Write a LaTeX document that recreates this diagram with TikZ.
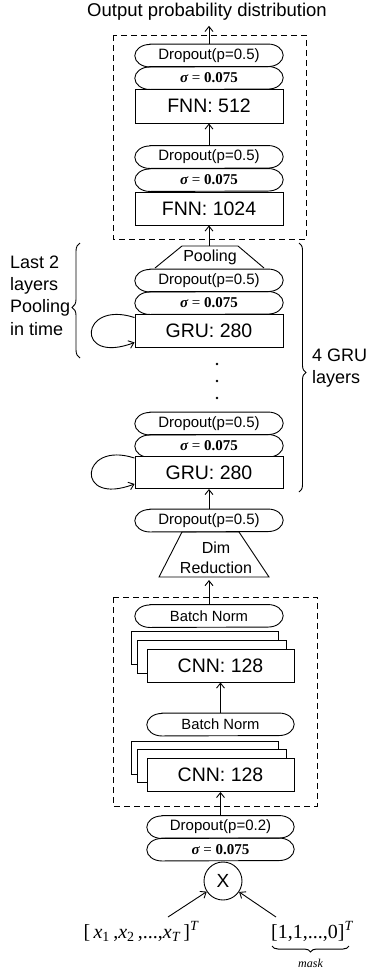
\documentclass[tikz,border=0pt]{standalone}
\usepackage{fontspec}
\setmainfont{Liberation Sans}
\newfontfamily\serif{Liberation Serif}
\usetikzlibrary{arrows.meta,decorations.pathreplacing,calc}
\tikzset{
  lw/.style={line width=0.9pt},
  arr/.style={lw,-{Straight Barb[length=5pt,width=8pt]}},
  pillbase/.style={inner sep=0pt, minimum height=22.5pt},
  outl/.style={lw},
  box/.style={draw, lw, fill=white, inner sep=0pt, minimum width=148pt, minimum height=33pt, font=\fontsize{19.5}{22}\selectfont},
  dashbox/.style={lw, dash pattern=on 6pt off 4pt},
  bracedeco/.style={lw, decorate, decoration={brace, amplitude=#1}},
  sidetext/.style={align=left, inner sep=0pt, font=\fontsize{18}{22.4}\selectfont},
  dotnode/.style={circle, fill, inner sep=0pt, minimum size=2.6pt}
}
\newcommand\pillnode[4]{%
  \node[pillbase, minimum width=#3pt] (#1) at (#2) {#4};
  \draw[outl] ([xshift=15pt]#1.north west) -- ([xshift=-15pt]#1.north east)
     arc[start angle=90,end angle=-90,x radius=15pt,y radius=11.25pt]
     -- ([xshift=15pt]#1.south west)
     arc[start angle=270,end angle=90,x radius=15pt,y radius=11.25pt] -- cycle;}
\newcommand\dsz{\fontsize{15}{15}\selectfont}
\newcommand\bsz{\fontsize{14.8}{15}\selectfont}
\newcommand\sigtext{{\serif\fontsize{15}{15}\selectfont{\bfseries\itshape σ} = {\bfseries 0.075}}}
\begin{document}
\begin{tikzpicture}[x=1pt,y=-1pt]
\useasboundingbox (0,0) rectangle (371,972);

% title
\node[inner xsep=0pt, inner ysep=5pt, font=\fontsize{18.5}{20}\selectfont] (title) at (207,12) {Output probability distribution};

% top dashed box
\draw[dashbox] (113,35) rectangle (306,239);

\pillnode{do1}{209,55.5}{148}{\dsz Dropout(p=0.5)}
\pillnode{s1}{209,78}{148}{\sigtext}
\node[box, minimum height=34pt] (fnn512) at (209,106) {FNN: 512};

\pillnode{do2}{209,157}{148}{\dsz Dropout(p=0.5)}
\pillnode{s2}{209,180}{148}{\sigtext}
\node[box] (fnn1024) at (209,208.5) {FNN: 1024};

% pooling trapezoid
\draw[lw] (155,268) -- (182,246) -- (238,246) -- (264,268);
\coordinate (pooltop) at (209,246);
\node[inner sep=0pt, font=\fontsize{16}{16}\selectfont] (pooltext) at (210,257) {Pooling};

\pillnode{do3}{209,280.5}{148}{\dsz Dropout(p=0.5)}
\pillnode{s3}{209,303}{148}{\sigtext}
\node[box] (gru1) at (209,330.5) {GRU: 280};

\node[dotnode] (dot1) at (217,364) {};
\node[dotnode] (dot2) at (217,381) {};
\node[dotnode] (dot3) at (217,398) {};

\pillnode{do4}{209,423.5}{148}{\dsz Dropout(p=0.5)}
\pillnode{s4}{209,446}{148}{\sigtext}
\node[box, minimum height=32pt] (gru2) at (209,472.5) {GRU: 280};

\pillnode{do5}{209,520.5}{148}{\dsz Dropout(p=0.5)}

% dim reduction trapezoid
\draw[lw] (159,577) -- (182,532) -- (239,532) -- (269,577) -- cycle;
\coordinate (dimbot) at (209,577);
\node[inner sep=0pt, align=center, font=\fontsize{16}{20}\selectfont] (dimtext) at (216,558) {Dim\\Reduction};

% lower dashed box
\draw[dashbox] (113,597) rectangle (317,806);

\pillnode{bn1}{209,616}{148}{\bsz Batch Norm}
\node[box, minimum width=147pt] (cnn1a) at (204.5,647.5) {};
\node[box, minimum width=149pt] (cnn1b) at (211.5,656.5) {};
\node[box, minimum width=147pt] (cnn1) at (220.5,665.5) {CNN: 128};

\pillnode{bn2}{220.5,724.5}{147}{\bsz Batch Norm}
\node[box, minimum width=147pt] (cnn2a) at (204.5,757.5) {};
\node[box, minimum width=149pt] (cnn2b) at (211.5,766) {};
\node[box, minimum width=147pt] (cnn2) at (220.5,775) {CNN: 128};

\pillnode{do6}{220.5,827}{147}{\dsz Dropout(p=0.2)}
\pillnode{s6}{220.5,849.5}{147}{\sigtext}

\node[draw, lw, circle, minimum size=38pt, inner sep=0pt, font=\fontsize{19}{19}\selectfont] (xop) at (223,881) {X};

\node[anchor=base, inner sep=0pt, font=\serif\fontsize{20}{20}\selectfont] (xin) at (141,938)
  {[\,{\itshape x}\textsubscript{1}\,,{\itshape x}\textsubscript{2}\,,...,{\itshape x}\textsubscript{\itshape T}\,]\textsuperscript{\itshape T}};
\node[anchor=base west, inner sep=0pt, font=\serif\fontsize{20}{20}\selectfont] (maskvec) at (271,938)
  {[1,1,...,0]\textsuperscript{\itshape T}};
\draw[bracedeco=6pt, line width=1pt] (349,946) -- (272,946);
\node[inner sep=0pt, font=\serif\itshape\fontsize{12}{12}\selectfont] (masktext) at (310.5,963) {mask};

\coordinate (a1) at (168,917);
\coordinate (a2) at (276,917);

% connectors
\draw[arr] (do1.north) -- (do1.north |- title.south);
\draw[arr] (do2.north) -- (fnn512.south);
\draw[arr] (pooltop) -- (fnn1024.south);
\draw[arr] (do5.north) -- (gru2.south);
\draw[arr, shorten >=3pt] (bn1.north) -- (dimbot);
\draw[arr] (bn2.north) -- (cnn1.south);
\draw[arr] (do6.north) -- (cnn2.south);
\draw[arr] (a1) -- (xop);
\draw[arr] (a2) -- (xop);

% recurrent self loops
\draw[arr] ($(gru1.north west)+(0,4)$) .. controls +(-55,-18) and +(-60,23) .. ($(gru1.south west)+(0,-5)$);
\draw[arr] ($(gru2.north west)+(0,2)$) .. controls +(-55,-18) and +(-60,23) .. ($(gru2.south west)+(0,-5)$);

% braces
\draw[bracedeco=8pt, decoration={aspect=0.44}] (80,358) -- (80,243);
\node[sidetext, anchor=west] (lasttext) at (10,295.5) {Last 2\\layers\\Pooling\\in time};
\draw[bracedeco=7pt, decoration={aspect=0.52}] (299,243) -- (299,492);
\node[sidetext, anchor=west] (grutext) at (312,368) {4 GRU\\layers};
\end{tikzpicture}
\end{document}
